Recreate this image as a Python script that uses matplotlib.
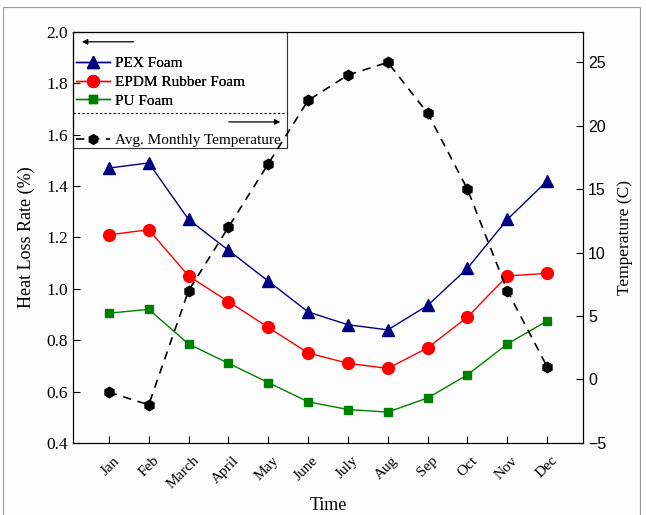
import matplotlib.pyplot as plt
import matplotlib.transforms as mtransforms
from matplotlib.lines import Line2D
from matplotlib.patches import Rectangle

months = ['Jan', 'Feb', 'March', 'April', 'May', 'June', 'July', 'Aug', 'Sep', 'Oct', 'Nov', 'Dec']
pex = [1.47, 1.49, 1.27, 1.15, 1.03, 0.91, 0.86, 0.84, 0.935, 1.08, 1.27, 1.42]
epdm = [1.21, 1.23, 1.05, 0.95, 0.85, 0.75, 0.71, 0.69, 0.77, 0.89, 1.05, 1.06]
pu = [0.905, 0.92, 0.785, 0.71, 0.635, 0.56, 0.53, 0.52, 0.575, 0.665, 0.785, 0.875]
temp = [-1, -2, 7, 12, 17, 22, 24, 25, 21, 15, 7, 1]

serif = ['Liberation Serif', 'DejaVu Serif']
sans = ['Liberation Sans', 'DejaVu Sans']
x = list(range(1, len(months) + 1))

fig = plt.figure(figsize=(6.46, 5.15), dpi=100, facecolor='white')
# faint page frame like the scanned figure
fig.patches.append(Rectangle((3 / 646, -0.01), 637 / 646, 1 - 7 / 515 + 0.01,
                             transform=fig.transFigure, facecolor='#fcfcfc',
                             edgecolor='#9a9a9a', lw=0.8, zorder=-10))

ax = fig.add_axes([0.113, 0.14, 0.7895, 0.798])
ax.set_facecolor('#fcfcfc')

ax.plot(x, pex, color='#000080', lw=1, marker='^', ms=8, label='PEX Foam')
ax.plot(x, epdm, color='red', lw=1, marker='o', ms=8.5, label='EPDM Rubber Foam')
ax.plot(x, pu, color='green', lw=1, marker='s', ms=6, label='PU Foam')
ax.set_xlim(0.1, 12.9)
ax.set_ylim(0.4, 2.0)
ax.set_yticks([0.4, 0.6, 0.8, 1.0, 1.2, 1.4, 1.6, 1.8, 2.0])
ax.set_xticks(x)
ax.set_xticklabels(months, rotation=45, ha='right', rotation_mode='default', fontsize=11, family=serif)
ax.tick_params(axis='x', direction='in', length=5, pad=8)
ax.tick_params(axis='y', direction='in', length=5, labelsize=12.5)
# month labels sit a little right of their ticks in the original
shift = mtransforms.ScaledTranslation(13 / 100, 0, fig.dpi_scale_trans)
for lab in ax.get_xticklabels():
    lab.set_transform(lab.get_transform() + shift)
for lab in ax.get_yticklabels():
    lab.set_family(serif)
ax.set_ylabel('Heat Loss Rate (%)', fontsize=13, family=serif, labelpad=8)
ax.set_xlabel('Time', fontsize=13, family=serif, labelpad=4)

ax2 = ax.twinx()
ax2.plot(x, temp, color='black', lw=1.2, ls=(0, (5, 4)), marker='h', ms=7.5)
ax2.set_ylim(-5, 27.4)
ax2.set_yticks([-5, 0, 5, 10, 15, 20, 25])
ax2.tick_params(axis='y', direction='in', length=5, labelsize=11.5)
for lab in ax2.get_yticklabels():
    lab.set_family(sans)
ax2.set_ylabel('Temperature (C)', fontsize=12.5, family=serif, labelpad=8)

# legend box with separator and arrows
ax.add_patch(Rectangle((0, 0.718), 0.42, 0.282, transform=ax.transAxes, fill=False,
                       edgecolor='#333333', lw=0.8, zorder=5, clip_on=False))
ax.plot([0, 0.42], [0.803, 0.803], transform=ax.transAxes, color='black', lw=0.8,
        ls=(0, (2, 2)), zorder=5)
ax.annotate('', xy=(0.012, 0.976), xytext=(0.124, 0.976), xycoords='axes fraction',
            arrowprops=dict(arrowstyle='-|>', color='black', lw=0.9, mutation_scale=8))
ax.annotate('', xy=(0.412, 0.781), xytext=(0.3, 0.781), xycoords='axes fraction',
            arrowprops=dict(arrowstyle='-|>', color='black', lw=0.9, mutation_scale=8))

leg1 = ax.legend(loc='upper left', bbox_to_anchor=(-0.006, 0.955), frameon=False,
                 prop={'family': serif, 'size': 11}, handlelength=2.2, handletextpad=0.35,
                 labelspacing=0.33, borderaxespad=0)
ax.add_artist(leg1)
temp_handle = Line2D([], [], color='black', lw=1.2, ls=(0, (5, 4)), marker='h', ms=7)
ax2.legend([temp_handle], ['Avg. Monthly Temperature'], loc='upper left',
           bbox_to_anchor=(-0.006, 0.768), frameon=False,
           prop={'family': serif, 'size': 11}, handlelength=2.2, handletextpad=0.35,
           borderaxespad=0)

fig.savefig('out.png', dpi=100, facecolor=fig.get_facecolor())
